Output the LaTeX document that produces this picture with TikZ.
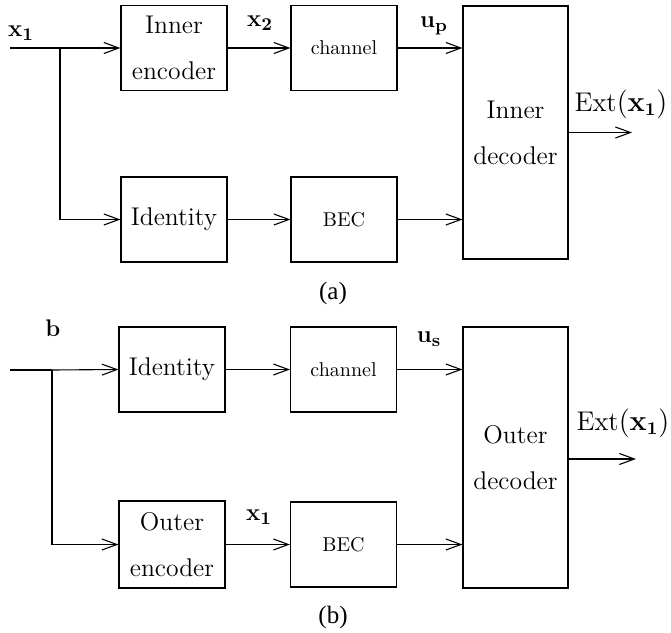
\documentclass[tikz,border=0pt]{standalone}
\usepackage{amsmath}
\usepackage{fontspec}
\newfontfamily\capfont{Liberation Serif}
\usetikzlibrary{arrows.meta, positioning}

\begin{document}
\begin{tikzpicture}[x=0.5pt, y=-0.5pt, line width=0.55pt,
        block/.style={draw, minimum width=53pt, minimum height=42.5pt, inner sep=0pt,
            align=center, font=\fontsize{12.8}{23}\selectfont},
        chanblock/.style={block, font=\fontsize{10}{12}\selectfont},
        decblock/.style={block, minimum width=52.5pt},
        sig/.style={-{Straight Barb[length=7.5pt,width=5.5pt]}},
        lbl/.style={inner sep=0pt, font=\fontsize{13}{15}\selectfont\boldmath},
        extlbl/.style={inner sep=0pt, font=\fontsize{13.5}{15}\selectfont},
        caption/.style={inner sep=0pt, font=\capfont\fontsize{12.5}{14}\selectfont}]
    \useasboundingbox (0,0) rectangle (671,633);

    % (a)
    \node[block] (encA) at (174,48) {Inner\\encoder};
    \node[chanblock] (chanA) at (344,48) {channel};
    \node[decblock, minimum height=126.5pt] (decA) at (515.5,132.5) {Inner\\decoder};
    \node[block] (idA) at (174,219.5) {Identity};
    \node[chanblock] (becA) at (344,219.5) {BEC};
    \coordinate (inA) at (10,48);
    \coordinate (brA) at (60,48);
    \coordinate (outA) at (632,132.5);
    \draw (inA) -- (brA);
    \draw[sig] (brA) -- (encA.west);
    \draw[sig] (brA) |- (idA.west);
    \draw[sig] (encA.east) -- (chanA.west);
    \draw[sig] (chanA.east) -- (chanA.east -| decA.west);
    \draw[sig] (idA.east) -- (becA.west);
    \draw[sig] (becA.east) -- (becA.east -| decA.west);
    \draw[sig] (decA.east) -- (outA);
    \node[lbl] (xA) at (21,33) {$\mathbf{x_1}$};
    \node[lbl] (xtwo) at (260,23) {$\mathbf{x_2}$};
    \node[lbl] (up) at (434,26) {$\mathbf{u_p}$};
    \node[extlbl] (extA) at (621,104) {$\mathrm{Ext}(\boldsymbol{\mathbf{x_1}})$};
    \node[caption] (capA) at (333,293) {(a)};

    % (b)
    \node[block] (idB) at (172,369.5) {Identity};
    \node[chanblock] (chanB) at (343.5,369.5) {channel};
    \node[decblock, minimum height=130.5pt] (decB) at (515.5,457.5) {Outer\\decoder};
    \node[block, minimum height=43.5pt] (encB) at (172,544.5) {Outer\\encoder};
    \node[chanblock] (becB) at (343.5,544.5) {BEC};
    \coordinate (inB) at (10,370);
    \coordinate (brB) at (52,370);
    \coordinate (outB) at (636,459);
    \draw (inB) -- (brB);
    \draw[sig] (brB) -- (idB.west);
    \draw[sig] (brB) |- (encB.west);
    \draw[sig] (idB.east) -- (chanB.west);
    \draw[sig] (chanB.east) -- (chanB.east -| decB.west);
    \draw[sig] (encB.east) -- (becB.west);
    \draw[sig] (becB.east) -- (becB.east -| decB.west);
    \draw[sig] (decB.east |- outB) -- (outB);
    \node[lbl] (bB) at (53,328) {$\mathbf{b}$};
    \node[lbl] (us) at (429,339) {$\mathbf{u_s}$};
    \node[lbl] (xB) at (259,517) {$\mathbf{x_1}$};
    \node[extlbl] (extB) at (623,423) {$\mathrm{Ext}(\boldsymbol{\mathbf{x_1}})$};
    \node[caption] (capB) at (333,617) {(b)};
\end{tikzpicture}
\end{document}
